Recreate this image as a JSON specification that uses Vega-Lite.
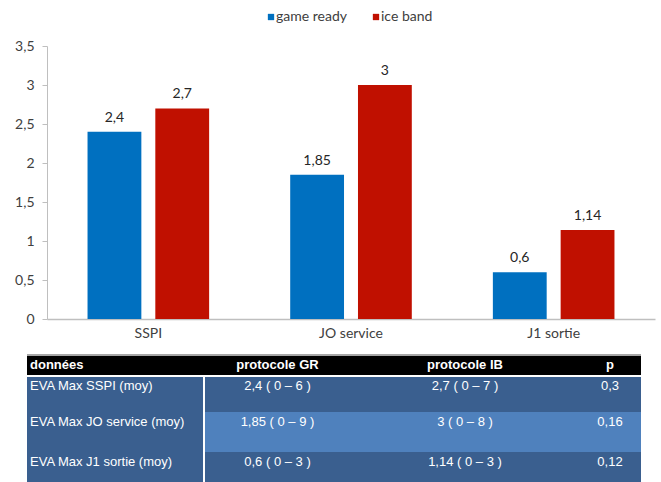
{
  "$schema": "https://vega.github.io/schema/vega-lite/v6.json",
  "background": "white",
  "padding": {"left": 14, "top": 10, "right": 5, "bottom": 0},
  "config": {
    "locale": {"number": {"decimal": ",", "thousands": " ", "grouping": [3], "currency": ["", " €"]}},
    "view": {"stroke": null},
    "concat": {"spacing": 14}
  },
  "resolve": {"scale": {"color": "independent", "x": "independent", "y": "independent"}, "legend": {"color": "independent"}},
  "datasets": {
    "bars": [
      {"cat": "SSPI", "group": "game ready", "value": 2.4},
      {"cat": "SSPI", "group": "ice band", "value": 2.7},
      {"cat": "JO service", "group": "game ready", "value": 1.85},
      {"cat": "JO service", "group": "ice band", "value": 3},
      {"cat": "J1 sortie", "group": "game ready", "value": 0.6},
      {"cat": "J1 sortie", "group": "ice band", "value": 1.14}
    ],
    "table": [
      {"row": 0, "col": 0, "text": "données"},
      {"row": 0, "col": 1, "text": "protocole GR"},
      {"row": 0, "col": 2, "text": "protocole IB"},
      {"row": 0, "col": 3, "text": "p"},
      {"row": 1, "col": 0, "text": "EVA Max SSPI (moy)"},
      {"row": 1, "col": 1, "text": "2,4 ( 0 – 6 )"},
      {"row": 1, "col": 2, "text": "2,7 ( 0 – 7 )"},
      {"row": 1, "col": 3, "text": "0,3"},
      {"row": 2, "col": 0, "text": "EVA Max JO service (moy)"},
      {"row": 2, "col": 1, "text": "1,85 ( 0 – 9 )"},
      {"row": 2, "col": 2, "text": "3 ( 0 – 8 )"},
      {"row": 2, "col": 3, "text": "0,16"},
      {"row": 3, "col": 0, "text": "EVA Max J1 sortie (moy)"},
      {"row": 3, "col": 1, "text": "0,6 ( 0 – 3 )"},
      {"row": 3, "col": 2, "text": "1,14 ( 0 – 3 )"},
      {"row": 3, "col": 3, "text": "0,12"}
    ]
  },
  "vconcat": [
    {
      "width": 608,
      "height": 273,
      "data": {"name": "bars"},
      "encoding": {
        "x": {
          "field": "cat", "type": "nominal",
          "sort": ["SSPI", "JO service", "J1 sortie"],
          "scale": {"paddingInner": 0.4, "paddingOuter": 0.2},
          "axis": {"title": null, "labelAngle": 0, "ticks": false, "domainColor": "#BFBFBF", "domainWidth": 1.5, "labelColor": "#404040", "labelFont": "Lato", "labelFontSize": 14, "labelPadding": 7}
        },
        "xOffset": {
          "field": "group", "type": "nominal",
          "sort": ["game ready", "ice band"],
          "scale": {"paddingInner": 0.206, "paddingOuter": 0}
        },
        "y": {
          "field": "value", "type": "quantitative",
          "scale": {"domain": [0, 3.5], "nice": false},
          "axis": {"title": null, "values": [0, 0.5, 1, 1.5, 2, 2.5, 3, 3.5], "format": "~g", "grid": false, "domainColor": "#BFBFBF", "tickColor": "#BFBFBF", "tickSize": 5, "labelColor": "#404040", "labelFont": "Lato", "labelFontSize": 14, "labelPadding": 8}
        }
      },
      "layer": [
        {
          "mark": {"type": "bar"},
          "encoding": {
            "color": {
              "field": "group", "type": "nominal",
              "scale": {"domain": ["game ready", "ice band"], "range": ["#0070C0", "#C01000"]},
              "legend": {"title": null, "orient": "none", "legendX": 217, "legendY": -36, "direction": "horizontal", "symbolType": "square", "symbolSize": 40, "symbolStrokeWidth": 0, "labelFont": "Lato", "labelFontSize": 14, "labelColor": "#404040", "columnPadding": 22, "labelOffset": -2}
            }
          }
        },
        {
          "mark": {"type": "text", "baseline": "alphabetic", "dy": -10, "font": "Lato", "fontSize": 14, "color": "#262626"},
          "encoding": {"text": {"field": "value", "type": "quantitative"}}
        }
      ]
    },
    {
      "width": 608,
      "height": 127,
      "data": {"name": "table"},
      "transform": [
        {"calculate": "datum.row + 1", "as": "row_end"},
        {"calculate": "datum.col + 1", "as": "col_end"},
        {"calculate": "datum.col + 0.5", "as": "col_mid"},
        {"calculate": "datum.row == 0 ? 'header' : (datum.row == 2 && datum.col > 0 ? 'light' : 'dark')", "as": "shade"}
      ],
      "encoding": {
        "y": {"field": "row", "type": "quantitative", "scale": {"domain": [0, 1, 2, 3, 4], "range": [0, 21, 57, 97, 127], "nice": false, "zero": false}, "axis": null}
      },
      "layer": [
        {
          "mark": {"type": "rect"},
          "encoding": {
            "x": {"field": "col", "type": "quantitative", "scale": {"domain": [0, 1, 2, 3, 4], "range": [-20, 157, 304, 532, 594], "nice": false, "zero": false}, "axis": null},
            "x2": {"field": "col_end"},
            "y2": {"field": "row_end"},
            "color": {"field": "shade", "type": "nominal", "scale": {"domain": ["header", "dark", "light"], "range": ["#000000", "#3A5F8F", "#4F81BD"]}, "legend": null}
          }
        },
        {
          "mark": {"type": "rule", "color": "#A6A6A6", "strokeWidth": 1},
          "encoding": {
            "x": {"datum": 0, "type": "quantitative"},
            "x2": {"datum": 4},
            "y": {"datum": 0, "type": "quantitative"}
          }
        },
        {
          "mark": {"type": "rule", "color": "white", "strokeWidth": 2},
          "encoding": {
            "x": {"datum": 1, "type": "quantitative"},
            "y": {"datum": 1, "type": "quantitative"},
            "y2": {"datum": 4}
          }
        },
        {
          "mark": {"type": "rule", "color": "white", "strokeWidth": 2},
          "encoding": {
            "x": {"datum": 0, "type": "quantitative"},
            "x2": {"datum": 4},
            "y": {"datum": 1, "type": "quantitative"}
          }
        },
        {
          "transform": [{"filter": "datum.row == 0 && datum.col == 0"}],
          "mark": {"type": "text", "align": "left", "baseline": "middle", "dx": 3, "dy": 10, "font": "Liberation Sans", "fontSize": 13, "fontWeight": "bold", "color": "white"},
          "encoding": {"x": {"field": "col", "type": "quantitative"}, "text": {"field": "text"}}
        },
        {
          "transform": [{"filter": "datum.row == 0 && datum.col > 0"}],
          "mark": {"type": "text", "align": "center", "baseline": "middle", "dy": 10, "font": "Liberation Sans", "fontSize": 13, "fontWeight": "bold", "color": "white"},
          "encoding": {"x": {"field": "col_mid", "type": "quantitative"}, "text": {"field": "text"}}
        },
        {
          "transform": [{"filter": "datum.row > 0 && datum.col == 0"}],
          "mark": {"type": "text", "align": "left", "baseline": "middle", "dx": 3, "dy": 10, "font": "Liberation Sans", "fontSize": 13, "color": "white"},
          "encoding": {"x": {"field": "col", "type": "quantitative"}, "text": {"field": "text"}}
        },
        {
          "transform": [{"filter": "datum.row > 0 && datum.col > 0"}],
          "mark": {"type": "text", "align": "center", "baseline": "middle", "dy": 10, "font": "Liberation Sans", "fontSize": 13, "color": "white"},
          "encoding": {"x": {"field": "col_mid", "type": "quantitative"}, "text": {"field": "text"}}
        }
      ]
    }
  ]
}
